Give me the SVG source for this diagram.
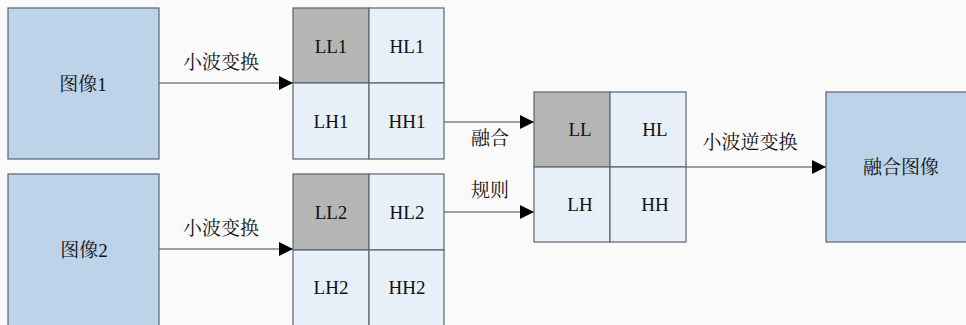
<svg xmlns="http://www.w3.org/2000/svg" width="966" height="325" viewBox="0 0 966 325">
<defs>
<style>
.bg{fill:#fafafa}
.img{fill:#bdd3ea;stroke:#5c6470;stroke-width:1.2}
.ll{fill:#b5b5b3;stroke:#5c6470;stroke-width:1.2}
.cell{fill:#e7eff8;stroke:#5c6470;stroke-width:1.2}
.t{font-family:"Liberation Serif","Noto Serif CJK SC","Noto Sans CJK SC",serif;font-size:19px;fill:#111;text-anchor:middle}
.c{stroke:#808080;stroke-width:1.3;fill:none;marker-end:url(#ah)}
</style>
<marker id="ah" viewBox="0 0 14 14" refX="14" refY="7" markerWidth="14" markerHeight="14" markerUnits="userSpaceOnUse" orient="auto">
<path d="M0,0 L14,7 L0,14 Z" fill="#000"/>
</marker>
</defs>
<rect class="bg" x="0" y="0" width="966" height="325"/>
<g id="connectors">
<line class="c" x1="159" y1="83" x2="293" y2="83"/>
<line class="c" x1="159" y1="249" x2="293" y2="249"/>
<line class="c" x1="444" y1="122" x2="534" y2="122"/>
<line class="c" x1="444" y1="212" x2="534" y2="212"/>
<line class="c" x1="686" y1="167" x2="826" y2="167"/>
<text class="t" x="221" y="69">小波变换</text>
<text class="t" x="221" y="235">小波变换</text>
<text class="t" x="490" y="145">融合</text>
<text class="t" x="490" y="197">规则</text>
<text class="t" x="750" y="149">小波逆变换</text>
</g>
<g id="image1">
<rect class="img" x="8" y="8" width="151" height="151"/>
<text class="t" x="83" y="91">图像1</text>
</g>
<g id="image2">
<rect class="img" x="8" y="174" width="151" height="160"/>
<text class="t" x="84" y="257">图像2</text>
</g>
<g id="grid1">
<rect class="ll" x="293" y="8" width="76" height="75"/>
<rect class="cell" x="369" y="8" width="75" height="75"/>
<rect class="cell" x="293" y="83" width="76" height="76"/>
<rect class="cell" x="369" y="83" width="75" height="76"/>
<text class="t" x="331" y="53">LL1</text>
<text class="t" x="407" y="53">HL1</text>
<text class="t" x="331" y="128">LH1</text>
<text class="t" x="407" y="128">HH1</text>
</g>
<g id="grid2">
<rect class="ll" x="293" y="174" width="76" height="76"/>
<rect class="cell" x="369" y="174" width="75" height="76"/>
<rect class="cell" x="293" y="250" width="76" height="84"/>
<rect class="cell" x="369" y="250" width="75" height="84"/>
<text class="t" x="331" y="219">LL2</text>
<text class="t" x="407" y="219">HL2</text>
<text class="t" x="331" y="294">LH2</text>
<text class="t" x="407" y="294">HH2</text>
</g>
<g id="fused-grid">
<rect class="ll" x="534" y="92" width="76" height="75"/>
<rect class="cell" x="610" y="92" width="76" height="75"/>
<rect class="cell" x="534" y="167" width="76" height="75"/>
<rect class="cell" x="610" y="167" width="76" height="75"/>
<text class="t" x="580" y="136">LL</text>
<text class="t" x="655" y="136">HL</text>
<text class="t" x="580" y="211">LH</text>
<text class="t" x="655" y="211">HH</text>
</g>
<g id="fused-image">
<rect class="img" x="826" y="92" width="150" height="150"/>
<text class="t" x="901" y="174">融合图像</text>
</g>
</svg>
